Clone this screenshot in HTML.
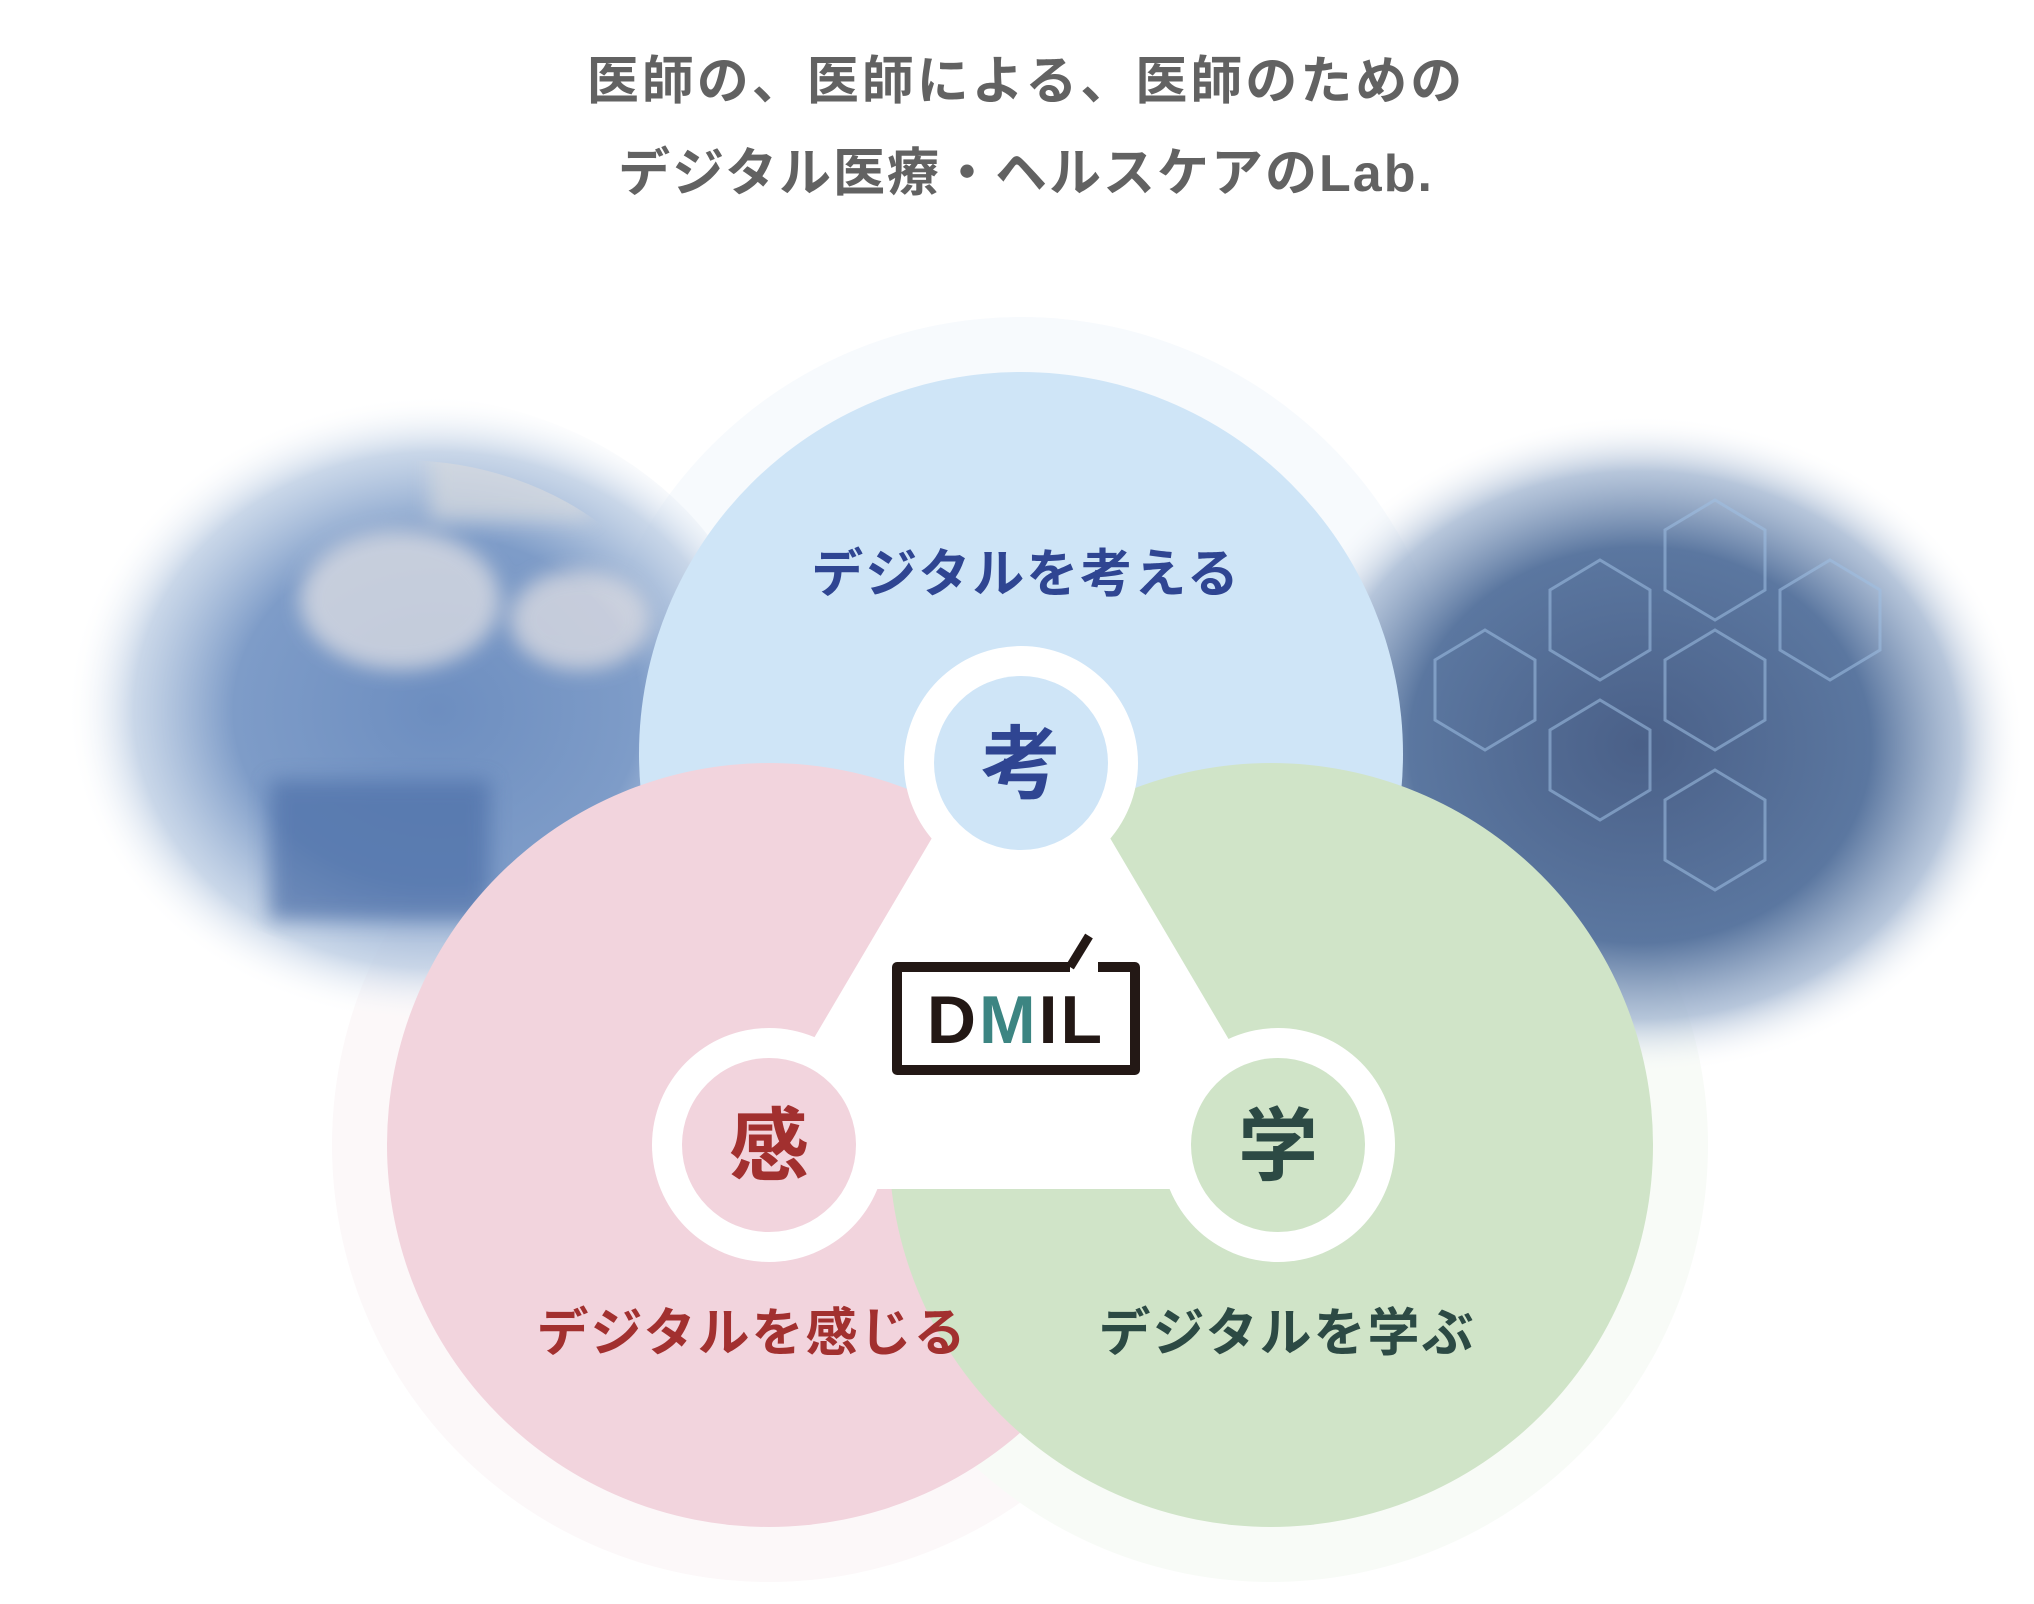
<!DOCTYPE html>
<html><head><meta charset="utf-8"><style>
html,body{margin:0;padding:0;background:#fff;}
body{width:2034px;height:1604px;overflow:hidden;position:relative;}
svg{position:absolute;left:0;top:0;}
</style></head><body>
<svg width="2034" height="1604" viewBox="0 0 2034 1604" xmlns="http://www.w3.org/2000/svg">
<defs>
<radialGradient id="lp" cx="0.55" cy="0.5" r="0.5">
<stop offset="0" stop-color="#6d8ec0"/>
<stop offset="0.55" stop-color="#7e9cc8"/>
<stop offset="0.82" stop-color="#bccde3" stop-opacity="0.8"/>
<stop offset="1" stop-color="#ffffff" stop-opacity="0"/>
</radialGradient>
<radialGradient id="rp" cx="0.5" cy="0.5" r="0.5">
<stop offset="0" stop-color="#4a6088"/>
<stop offset="0.6" stop-color="#5b77a0"/>
<stop offset="0.83" stop-color="#a5b8d2" stop-opacity="0.8"/>
<stop offset="1" stop-color="#ffffff" stop-opacity="0"/>
</radialGradient>
<filter id="bl"><feGaussianBlur stdDeviation="10"/></filter>
<clipPath id="lc"><ellipse cx="400" cy="710" rx="300" ry="250"/></clipPath>
<clipPath id="rc"><ellipse cx="1640" cy="745" rx="310" ry="260"/></clipPath>
</defs>
<text x="1026" y="99" text-anchor="middle" font-family="Liberation Sans, Noto Sans CJK JP, sans-serif" font-weight="bold" font-size="52" letter-spacing="3" fill="#626262">医師の、医師による、医師のための</text>
<text x="1026" y="191" text-anchor="middle" font-family="Liberation Sans, Noto Sans CJK JP, sans-serif" font-weight="bold" font-size="52" letter-spacing="2" fill="#626262">デジタル医療・ヘルスケアのLab.</text>

<circle cx="1021" cy="754" r="437" fill="#f7fafd"/>
<circle cx="769" cy="1145" r="437" fill="#fcf8f9"/>
<circle cx="1271" cy="1145" r="437" fill="#f8fbf7"/>

<ellipse cx="400" cy="710" rx="370" ry="315" fill="url(#lp)"/>
<g filter="url(#bl)" opacity="0.7" clip-path="url(#lc)">
<ellipse cx="400" cy="600" rx="100" ry="70" fill="#e6e4e6"/>
<ellipse cx="580" cy="620" rx="70" ry="50" fill="#e5e2e4"/>
<rect x="430" y="440" width="160" height="80" fill="#d6d9de"/>
<rect x="270" y="780" width="220" height="140" fill="#4d6fa8"/>
</g>
<ellipse cx="1640" cy="745" rx="385" ry="330" fill="url(#rp)"/>
<g fill="none" stroke="#9fc0e4" stroke-width="3" opacity="0.55" clip-path="url(#rc)">
<polygon points="1600,560 1650,590 1650,650 1600,680 1550,650 1550,590"/>
<polygon points="1715,630 1765,660 1765,720 1715,750 1665,720 1665,660"/>
<polygon points="1485,630 1535,660 1535,720 1485,750 1435,720 1435,660"/>
<polygon points="1600,700 1650,730 1650,790 1600,820 1550,790 1550,730"/>
<polygon points="1715,500 1765,530 1765,590 1715,620 1665,590 1665,530"/>
<polygon points="1830,560 1880,590 1880,650 1830,680 1780,650 1780,590"/>
<polygon points="1715,770 1765,800 1765,860 1715,890 1665,860 1665,800"/>
</g>

<circle cx="1021" cy="754" r="382" fill="#cfe5f7"/>
<circle cx="769" cy="1145" r="382" fill="#f2d4dd"/>
<circle cx="1271" cy="1145" r="382" fill="#d0e4c8"/>

<polygon points="1021,687 725,1189 1317,1189" fill="#fff"/>
<circle cx="1021" cy="763" r="117" fill="#fff"/>
<circle cx="769" cy="1145" r="117" fill="#fff"/>
<circle cx="1278" cy="1145" r="117" fill="#fff"/>
<circle cx="1021" cy="763" r="87" fill="#cfe5f7"/>
<circle cx="769" cy="1145" r="87" fill="#f2d4dd"/>
<circle cx="1278" cy="1145" r="87" fill="#d0e4c8"/>

<g font-family="Liberation Sans, Noto Sans CJK JP, sans-serif" font-weight="bold" text-anchor="middle">
<text x="1021" y="792" font-size="80" fill="#2f4592">考</text>
<text x="769" y="1174" font-size="80" fill="#a2302f">感</text>
<text x="1278" y="1174" font-size="80" fill="#2c4a44">学</text>
<text x="1026" y="592" font-size="52" letter-spacing="2" fill="#2f4592">デジタルを考える</text>
<text x="752" y="1351" font-size="52" letter-spacing="2" fill="#a2302f">デジタルを感じる</text>
<text x="1287" y="1351" font-size="52" letter-spacing="2" fill="#2c4a44">デジタルを学ぶ</text>
</g>

<path d="M1070,967 L897,967 L897,1070 L1135,1070 L1135,967 L1098,967" fill="none" stroke="#231815" stroke-width="10" stroke-linejoin="round"/>
<path d="M1070,967 L1089,936" fill="none" stroke="#231815" stroke-width="9"/>
<text x="1016" y="1043" text-anchor="middle" font-family="Liberation Sans, sans-serif" font-weight="bold" font-size="68" fill="#231815" letter-spacing="3">D<tspan fill="#3c8582">M</tspan>IL</text>
</svg>
</body></html>
